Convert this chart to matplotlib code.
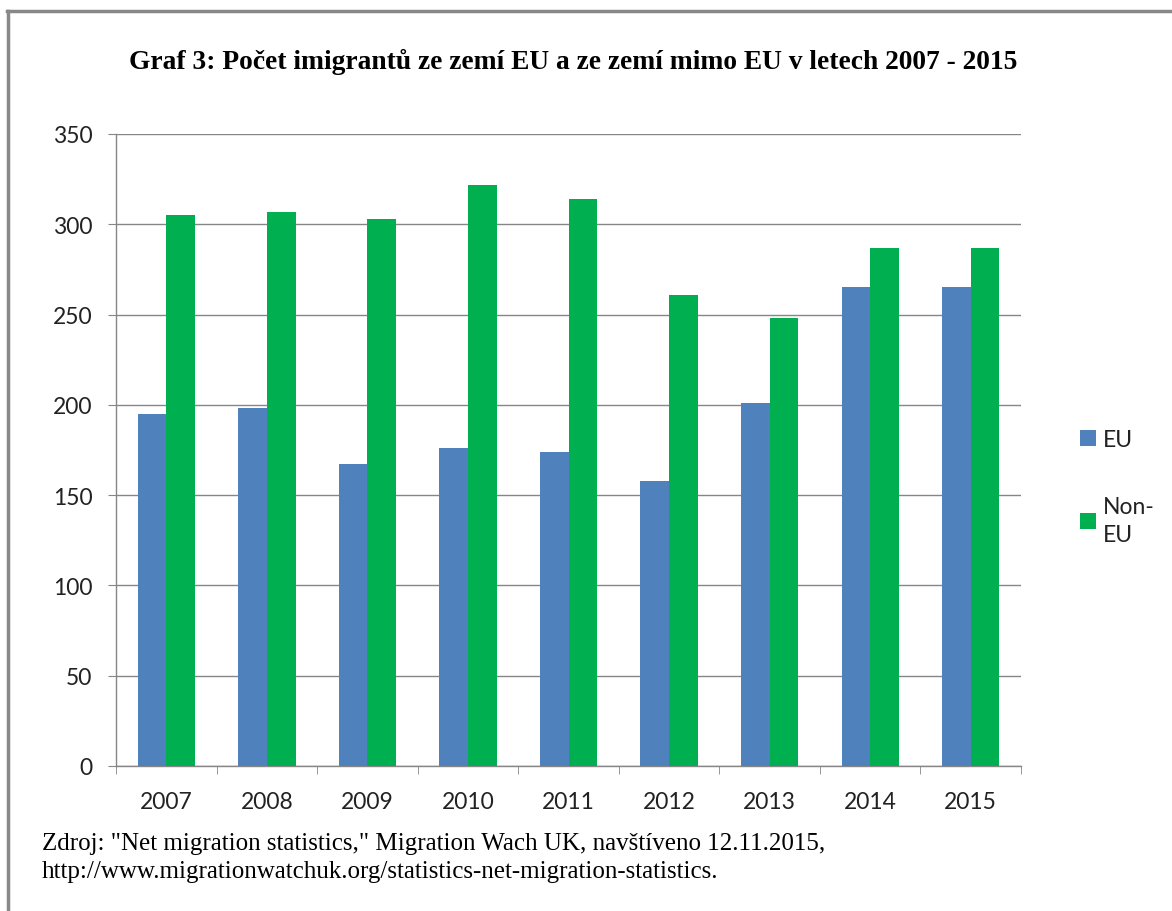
import matplotlib
matplotlib.use("Agg")
import matplotlib.pyplot as plt
from matplotlib.lines import Line2D
import numpy as np

years = ["2007", "2008", "2009", "2010", "2011", "2012", "2013", "2014", "2015"]
eu = [195, 198, 167, 176, 174, 158, 201, 265, 265]
non_eu = [305, 307, 303, 322, 314, 261, 248, 287, 287]

title = "Graf 3: Počet imigrantů ze zemí EU a ze zemí mimo EU v letech 2007 - 2015"
source = ('Zdroj: "Net migration statistics," Migration Wach UK, navštíveno 12.11.2015,\n'
          'http://www.migrationwatchuk.org/statistics-net-migration-statistics.')

blue = "#4f81bd"
green = "#00b050"
grid_c = "#868686"

fig = plt.figure(figsize=(11.72, 9.12), dpi=100)
ax = fig.add_axes([0.099, 0.159, 0.7722, 0.693])

x = np.arange(len(years))
w = 0.285
ax.bar(x - w / 2, eu, w, color=blue, label="EU", zorder=3)
ax.bar(x + w / 2, non_eu, w, color=green, label="Non-\nEU", zorder=3)

ax.set_xlim(-0.5, len(years) - 0.5)
ax.set_ylim(0, 350)
ax.set_yticks(range(0, 351, 50))
ax.set_xticks(x)
ax.set_xticklabels(years)
ax.set_xticks(np.arange(-0.5, len(years), 1.0), minor=True)
ax.tick_params(axis="x", which="major", length=0, pad=18)
ax.tick_params(axis="x", which="minor", length=6, color=grid_c, direction="out")
ax.tick_params(axis="y", length=6, color=grid_c, pad=11)
for lab in ax.get_xticklabels() + ax.get_yticklabels():
    lab.set_fontfamily("Lato")
    lab.set_fontsize(16.5)
    lab.set_color("#222222")

ax.grid(axis="y", color=grid_c, linewidth=1, zorder=0)
for s in ["top", "right"]:
    ax.spines[s].set_visible(False)
for s in ["left", "bottom"]:
    ax.spines[s].set_color(grid_c)
    ax.spines[s].set_linewidth(1)

leg = ax.legend(loc="center left", bbox_to_anchor=(0.904, 0.465), bbox_transform=fig.transFigure,
                frameon=False, prop={"family": "Lato", "size": 16.5},
                handlelength=0.7, handleheight=0.7, handletextpad=0.3, labelspacing=2.0)
for t in leg.get_texts():
    t.set_color("#222222")
    t.set_linespacing(1.45)

fig.text(0.489, 0.932, title, ha="center", va="center", family="Liberation Serif",
         weight="bold", fontsize=19.8)
fig.text(0.036, 0.059, source, ha="left", va="center", family="Liberation Serif",
         fontsize=18, linespacing=1.33)

# outer frame (top and left edges visible)
fig.add_artist(Line2D([0.006, 1.0], [1 - 12 / 912] * 2, color="#888888", linewidth=2.5,
                      transform=fig.transFigure))
fig.add_artist(Line2D([0.0065] * 2, [0, 1 - 12 / 912], color="#888888", linewidth=2.5,
                      transform=fig.transFigure))

fig.savefig("out.png", dpi=100)
